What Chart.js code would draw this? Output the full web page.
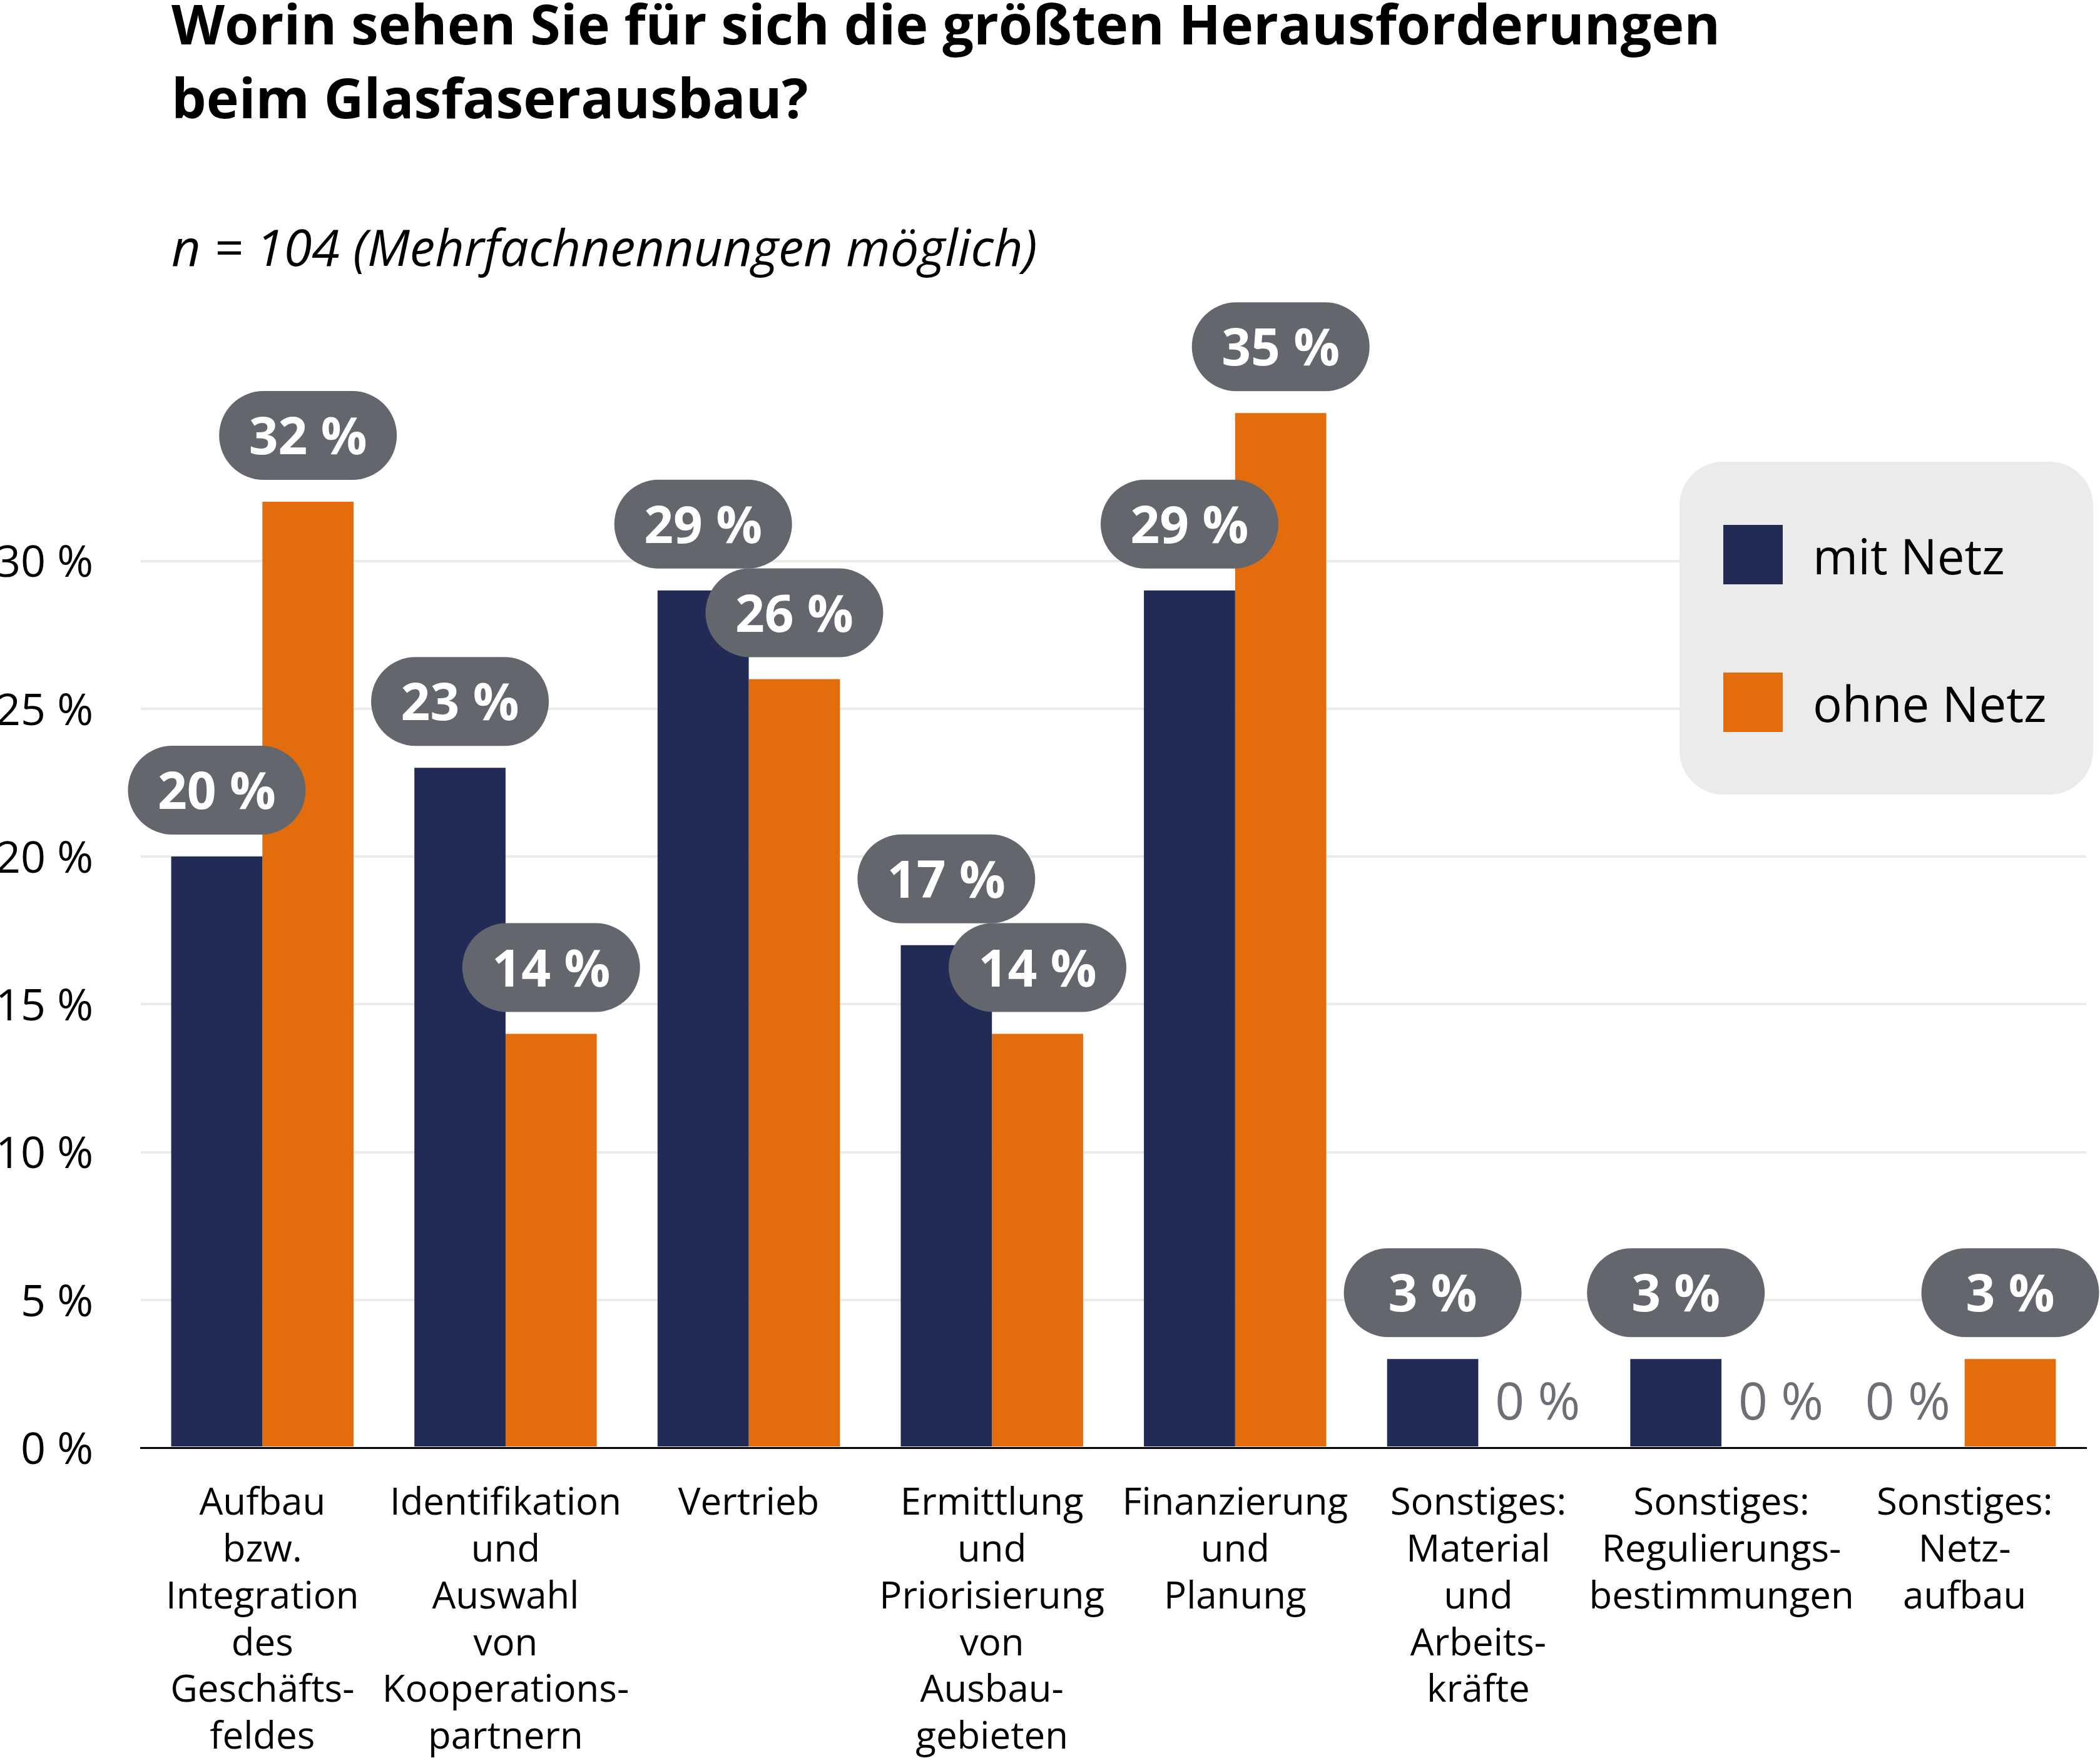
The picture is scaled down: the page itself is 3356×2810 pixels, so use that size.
<!DOCTYPE html>
<html lang="de">
<head>
<meta charset="utf-8">
<title>Glasfaserausbau</title>
<script src="https://cdn.jsdelivr.net/npm/chart.js@4.4.1/dist/chart.umd.min.js"></script>
<style>
  html, body { margin: 0; padding: 0; background: #fff; }
  canvas { display: block; }
</style>
</head>
<body>
<canvas id="chart" width="3356" height="2810"></canvas>
<script>
const titleLines = [`Worin sehen Sie für sich die größten Herausforderungen`, `beim Glasfaserausbau?`];
const subtitle = `n = 104 (Mehrfachnennungen möglich)`;

const categories = [
  [`Aufbau`, `bzw.`, `Integration`, `des`, `Geschäfts-`, `feldes`],
  [`Identifikation`, `und`, `Auswahl`, `von`, `Kooperations-`, `partnern`],
  [`Vertrieb`],
  [`Ermittlung`, `und`, `Priorisierung`, `von`, `Ausbau-`, `gebieten`],
  [`Finanzierung`, `und`, `Planung`],
  [`Sonstiges:`, `Material`, `und`, `Arbeits-`, `kräfte`],
  [`Sonstiges:`, `Regulierungs-`, `bestimmungen`],
  [`Sonstiges:`, `Netz-`, `aufbau`],
];
const seriesNames = [`mit Netz`, `ohne Netz`];
const mitNetz = [20, 23, 29, 17, 29, 3, 3, 0];
const ohneNetz = [32, 14, 26, 14, 35, 0, 0, 3];
const yTicks = [0, 5, 10, 15, 20, 25, 30];

const FONT = `"Open Sans", "Noto Sans", sans-serif`;
const NAVY = `#212b55`;
const ORANGE = `#e36d0c`;
const PILL = `#63666d`;
const GRID = `#ebebeb`;

const pct = (v) => `${v} %`;

// rounded box helper
const roundRect = (ctx, x, y, w, h, r) => {
  ctx.beginPath();
  ctx.moveTo(x + r, y);
  ctx.arcTo(x + w, y, x + w, y + h, r);
  ctx.arcTo(x + w, y + h, x, y + h, r);
  ctx.arcTo(x, y + h, x, y, r);
  ctx.arcTo(x, y, x + w, y, r);
  ctx.closePath();
};

const headerPlugin = {
  id: `header`,
  afterDraw(chart) {
    const ctx = chart.ctx;
    ctx.save();
    ctx.fillStyle = `#000`;
    ctx.textAlign = `left`;
    ctx.textBaseline = `alphabetic`;
    ctx.font = `bold 88px ${FONT}`;
    ctx.fillText(titleLines[0], 274, 71);
    ctx.fillText(titleLines[1], 274, 189);
    ctx.font = `italic 81px ${FONT}`;
    ctx.fillText(subtitle, 274, 425);
    ctx.restore();
  }
};

const pillPlugin = {
  id: `pills`,
  afterDatasetsDraw(chart) {
    const ctx = chart.ctx;
    ctx.save();
    ctx.textAlign = `center`;
    ctx.textBaseline = `alphabetic`;
    chart.data.datasets.forEach((ds, d) => {
      const meta = chart.getDatasetMeta(d);
      meta.data.forEach((bar, i) => {
        const v = ds.data[i];
        if (v > 0) {
          const cy = bar.y - 35 - 71;
          ctx.fillStyle = PILL;
          roundRect(ctx, bar.x - 142, cy - 71, 284, 142, 71);
          ctx.fill();
          ctx.fillStyle = `#fff`;
          ctx.font = `bold 82px ${FONT}`;
          ctx.fillText(pct(v), bar.x, cy + 30);
        } else {
          // zero values: plain grey text, nudged away from the neighbour bar
          ctx.fillStyle = `#6c6f76`;
          ctx.font = `82px ${FONT}`;
          ctx.fillText(pct(v), bar.x + (d === 0 ? -18 : 22), bar.y - 45);
        }
      });
    });
    ctx.restore();
  }
};

const legendPlugin = {
  id: `boxLegend`,
  afterDraw(chart) {
    const ctx = chart.ctx;
    ctx.save();
    ctx.fillStyle = GRID;
    roundRect(ctx, 2684, 738, 661, 532, 70);
    ctx.fill();
    ctx.font = `78px ${FONT}`;
    ctx.textAlign = `left`;
    ctx.textBaseline = `alphabetic`;
    chart.data.datasets.forEach((ds, i) => {
      const top = 839 + i * 236;
      ctx.fillStyle = ds.backgroundColor;
      ctx.fillRect(2754, top, 95, 95);
      ctx.fillStyle = `#000`;
      ctx.fillText(ds.label, 2897, top + 79);
    });
    ctx.restore();
  }
};

const chart = new Chart(document.getElementById(`chart`), {
  type: `bar`,
  data: {
    labels: categories,
    datasets: [
      {label: seriesNames[0], data: mitNetz, backgroundColor: NAVY},
      {label: seriesNames[1], data: ohneNetz, backgroundColor: ORANGE},
    ]
  },
  plugins: [headerPlugin, pillPlugin, legendPlugin],
  options: {
    responsive: false,
    animation: false,
    devicePixelRatio: 1,
    layout: {padding: {top: 424, right: 22, bottom: 0, left: 0}},
    datasets: {bar: {barPercentage: 1, categoryPercentage: 0.75}},
    plugins: {
      legend: {display: false},
      tooltip: {enabled: false},
      title: {display: false},
    },
    scales: {
      x: {
        grid: {display: false},
        border: {display: true, color: `#000`, width: 3},
        ticks: {
          color: `#000`,
          font: {family: FONT, size: 60, lineHeight: 1.245},
          padding: 45,
          maxRotation: 0,
          autoSkip: false,
        },
        afterFit: (scale) => {
          scale.height = 496;
        },
      },
      y: {
        min: 0,
        max: 40,
        grid: {color: GRID, lineWidth: 4, drawTicks: false},
        border: {display: false},
        afterBuildTicks: (scale) => {
          scale.ticks = yTicks.map((v) => ({value: v}));
        },
        ticks: {
          color: `#000`,
          font: {family: FONT, size: 70},
          padding: 76,
          labelOffset: 6,
          callback: (v) => pct(v),
        },
        afterFit: (scale) => {
          scale.width = 225;
        },
      },
    },
  },
});
</script>
</body>
</html>
